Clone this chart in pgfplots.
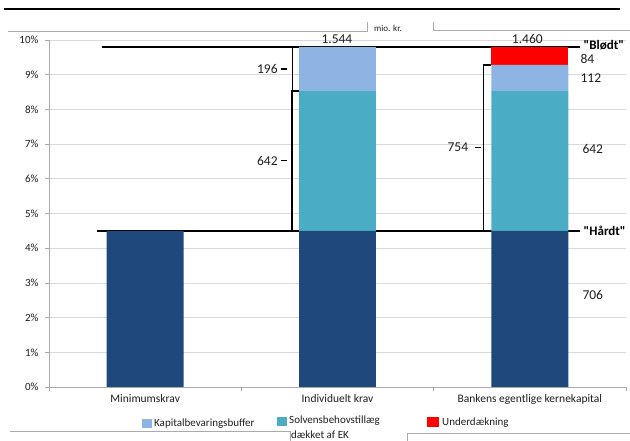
\documentclass[border=0pt]{standalone}
\usepackage{fontspec}
\setmainfont{Carlito}[Ligatures=TeXOff]
\usepackage{pgfplots}
\pgfplotsset{compat=1.18}
\definecolor{navy}{RGB}{31,73,125}
\definecolor{tealb}{RGB}{75,172,198}
\definecolor{lblue}{RGB}{141,180,226}
\definecolor{gridc}{RGB}{217,217,217}
\definecolor{axc}{RGB}{170,170,170}
\definecolor{txt}{RGB}{30,30,30}
\newcommand\fs[1]{\fontsize{#1bp}{#1bp}\selectfont}
\begin{document}
\begin{tikzpicture}
\path[use as bounding box] (0,0) rectangle (630bp,441bp);
% decorative page lines
\draw[line width=2.4bp] (4bp,{(441-9)*1bp}) -- (620bp,{(441-9)*1bp});
\draw[axc, line width=0.6bp] (8bp,{(441-31)*1bp}) -- (367bp,{(441-31)*1bp}) -- (367bp,{(441-22)*1bp});
\draw[axc, line width=0.6bp] (433bp,{(441-22)*1bp}) -- (433bp,{(441-30)*1bp}) -- (630bp,{(441-30)*1bp});
\draw[axc, line width=0.6bp] (10bp,{(441-431)*1bp}) -- (290bp,{(441-431)*1bp}) -- (290bp,0bp);
\draw[axc, line width=0.6bp] (407bp,0bp) -- (407bp,{(441-433)*1bp}) -- (630bp,{(441-433)*1bp});
\node[font=\fs{9}, text=txt, inner sep=0] at (388bp,{(441-28)*1bp}) {mio. kr.};
\begin{axis}[at={(49bp,54bp)}, anchor=south west, scale only axis,
  width=577bp, height=347bp,
  xmin=-0.5, xmax=2.5, ymin=0, ymax=10, clip=false,
  axis x line*=bottom, axis y line*=left,
  x axis line style={-}, y axis line style={-},
  axis line style={axc, line width=0.6bp},
  ymajorgrids, grid style={gridc, line width=0.7bp},
  ytick={0,1,...,10},
  /pgf/number format/assume math mode=true,
  yticklabel={\pgfmathprintnumber{\tick}\%},
  yticklabel style={font=\fs{11}, text=txt, xshift=-3bp},
  tick align=outside, major tick length=4bp,
  tick style={axc, line width=0.6bp},
  xtick={-0.5,0.5,1.5,2.5}, xticklabels={},
  extra x ticks={0,1,2},
  extra x tick labels={Minimumskrav, Individuelt krav, Bankens egentlige kernekapital},
  extra x tick style={major tick length=0pt, xticklabel style={font=\fs{11.5}, text=txt, yshift=-4bp}},
  ybar stacked, bar width=0.4,
]
\addplot[fill=navy, draw=none] coordinates {(0,4.5) (1,4.5) (2,4.5)};
\addplot[fill=tealb, draw=none] coordinates {(0,0) (1,4.03) (2,4.03)};
\addplot[fill=lblue, draw=none] coordinates {(0,0) (1,1.27) (2,0.75)};
\addplot[fill=red, draw=none] coordinates {(0,0) (1,0) (2,0.52)};
% Blødt / Hårdt lines
\draw[line width=2.6bp] (axis cs:-0.227,9.8) -- (axis cs:2.263,9.8);
\draw[line width=2.6bp] (axis cs:-0.253,4.5) -- (axis cs:2.263,4.5);
\node[anchor=west, font=\bfseries\fs{13}, inner sep=0] at (axis cs:2.279,9.86) {"Blødt"};
\node[anchor=west, font=\bfseries\fs{13}, inner sep=0] at (axis cs:2.279,4.5) {"Hårdt"};
% totals
\node[font=\fs{13.5}, text=txt, inner sep=0] at (axis cs:0.997,10.03) {1.544};
\node[font=\fs{13.5}, text=txt, inner sep=0] at (axis cs:1.987,10.03) {1.460};
% bracket bar 2
\draw[line width=1.3bp] (axis cs:0.8,8.53) -- (axis cs:0.763,8.53) -- (axis cs:0.763,4.5);
\draw[line width=0.6bp] (axis cs:0.763,8.53) -- (axis cs:0.763,9.8);
\draw[line width=1.3bp] (axis cs:0.704,9.16) -- (axis cs:0.738,9.16);
\draw[line width=1.3bp] (axis cs:0.704,6.52) -- (axis cs:0.738,6.52);
\node[anchor=east, font=\fs{13.5}, text=txt, inner sep=0] at (axis cs:0.69,9.16) {196};
\node[anchor=east, font=\fs{13.5}, text=txt, inner sep=0] at (axis cs:0.69,6.52) {642};
% bracket bar 3
\draw[line width=1.3bp] (axis cs:1.8,9.28) -- (axis cs:1.758,9.28) -- (axis cs:1.758,4.5);
\draw[line width=1.3bp] (axis cs:1.716,6.9) -- (axis cs:1.745,6.9);
\node[anchor=east, font=\fs{13.5}, text=txt, inner sep=0] at (axis cs:1.68,6.9) {754};
% right value labels
\node[anchor=west, font=\fs{13.5}, text=txt, inner sep=0] at (axis cs:2.263,9.45) {84};
\node[anchor=west, font=\fs{13.5}, text=txt, inner sep=0] at (axis cs:2.263,8.9) {112};
\node[anchor=west, font=\fs{13.5}, text=txt, inner sep=0] at (axis cs:2.273,6.86) {642};
\node[anchor=west, font=\fs{13.5}, text=txt, inner sep=0] at (axis cs:2.273,2.65) {706};
\end{axis}
% legend
\fill[lblue] (142bp,{(441-419)*1bp}) rectangle (152bp,{(441-428)*1bp});
\node[anchor=west, font=\fs{11}, text=txt, inner sep=0] at (154bp,{(441-423.5)*1bp}) {Kapitalbevaringsbuffer};
\fill[tealb] (277bp,{(441-417)*1bp}) rectangle (287bp,{(441-426)*1bp});
\node[anchor=west, font=\fs{11}, text=txt, inner sep=0] at (289bp,{(441-421)*1bp}) {Solvensbehovstillæg};
\node[anchor=west, font=\fs{11}, text=txt, inner sep=0] at (291bp,{(441-434.5)*1bp}) {dækket af EK};
\fill[red] (427bp,{(441-417)*1bp}) rectangle (439bp,{(441-427)*1bp});
\node[anchor=west, font=\fs{11}, text=txt, inner sep=0] at (442bp,{(441-422.5)*1bp}) {Underdækning};
\end{tikzpicture}
\end{document}
